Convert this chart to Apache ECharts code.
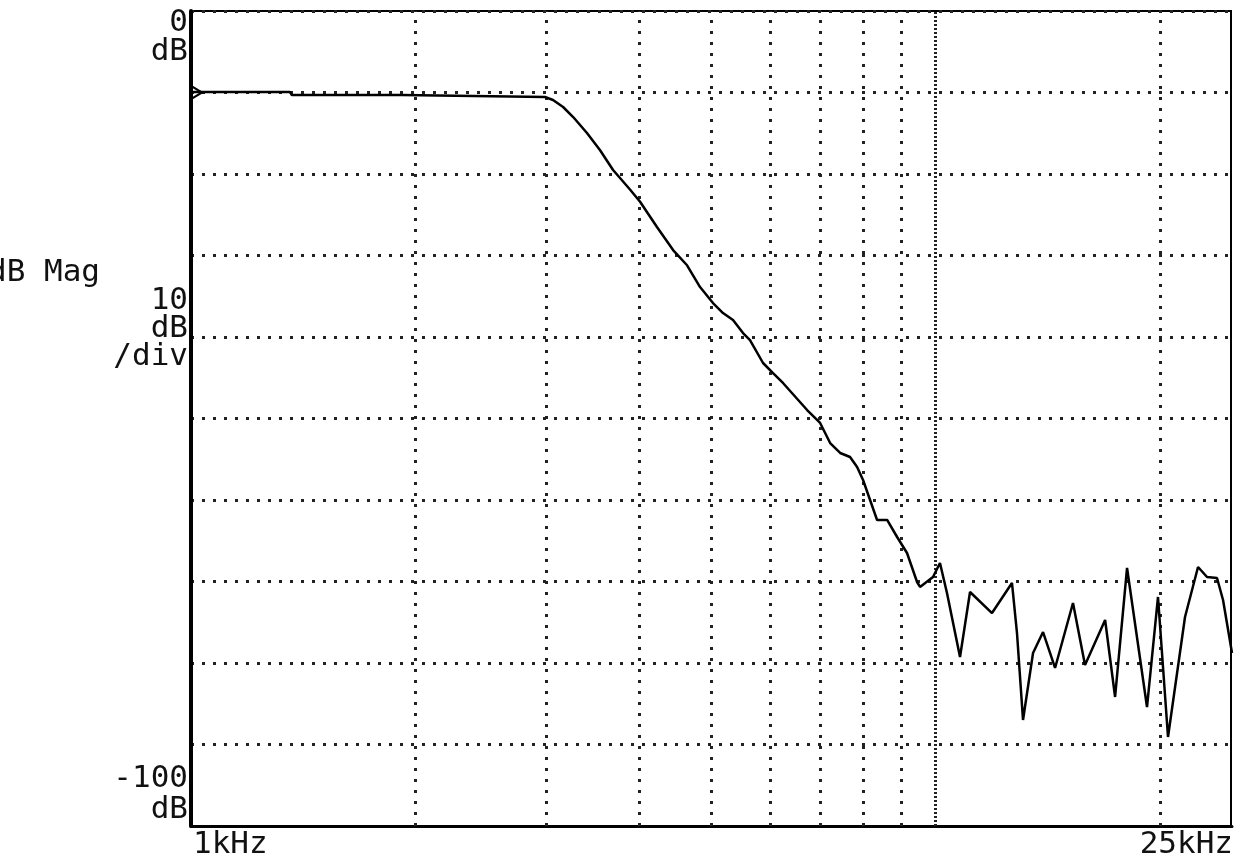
<!DOCTYPE html>
<html>
<head>
<meta charset="utf-8">
<title>dB Mag 1kHz - 25kHz</title>
<script src="https://cdn.jsdelivr.net/npm/echarts@6/dist/echarts.min.js"></script>
<style>
  html, body { margin: 0; padding: 0; background: #fff; }
  #chart { width: 1241px; height: 863px; }
</style>
</head>
<body>
<div id="chart"></div>
<script>
// frequency in kHz, magnitude in dB
const freqKHz = [
  1.000, 1.358, 1.366, 1.920, 1.930, 2.988, 3.063, 3.160, 3.260, 3.402,
  3.541, 3.688, 3.886, 4.009, 4.224, 4.440, 4.636, 4.826, 5.023, 5.181,
  5.344, 5.512, 5.632, 5.864, 6.048, 6.237, 6.720, 6.996, 7.216, 7.443,
  7.674, 7.843, 7.989, 8.164, 8.343, 8.606, 8.876, 9.152, 9.441, 9.528,
  9.918, 10.134, 10.356, 10.782, 11.121, 11.903, 12.661, 12.859, 13.101, 13.513,
  13.938, 14.465, 15.290, 15.869, 16.887, 17.416, 18.072, 19.222, 19.887, 20.512,
  21.619, 22.508, 23.141, 23.868, 24.317, 25.000
]
const magDb = [
  -9.94, -9.94, -10.31, -10.31, -10.55, -10.55, -10.92, -11.78, -13.01, -14.97,
  -17.06, -19.51, -21.90, -23.40, -26.50, -29.33, -31.20, -33.87, -35.83, -37.06,
  -37.91, -39.51, -40.37, -43.19, -44.42, -45.64, -48.96, -50.55, -53.01, -54.23,
  -54.72, -55.95, -57.55, -60.00, -62.45, -62.45, -64.54, -66.50, -70.06, -70.67,
  -69.45, -67.73, -71.41, -79.26, -71.29, -73.87, -70.18, -76.32, -86.99, -78.77,
  -76.20, -80.61, -72.64, -80.25, -74.72, -84.17, -68.34, -85.40, -71.90, -89.08,
  -74.36, -68.22, -69.45, -69.57, -72.27, -78.77
]
const gridFreqs = [2, 3, 4, 5, 6, 7, 8, 9, 20]
const centerFreq = 10
const refLevelDb = -10
const yLabels = { top: ['0', 'dB'], bottom: ['-100', 'dB'], scale: ['10', 'dB', '/div'] }
const xLabels = ['1kHz', '25kHz']

const chart = echarts.init(document.getElementById('chart'))
const font = '31px "DejaVu Sans Mono", "Liberation Mono", monospace'
const dotted = { color: '#222', width: 3, type: [3, 8] }

const txt = (text, x, y, align) => ({
  type: 'text', x, y,
  style: { text, font, fill: '#111', align: align || 'right', verticalAlign: 'middle' }
})

const option = {
  backgroundColor: '#fff',
  animation: false,
  grid: { left: 191, right: 9, top: 11, bottom: 37 },
  xAxis: {
    type: 'log', logBase: 10, min: 1, max: 25,
    axisLine: { show: true, onZero: false, lineStyle: { color: '#000', width: 3 } },
    axisTick: { show: false },
    axisLabel: { show: false },
    splitLine: { show: false }
  },
  yAxis: {
    type: 'value', min: -100, max: 0, interval: 10,
    axisLine: { show: true, lineStyle: { color: '#000', width: 4 } },
    axisTick: { show: false },
    axisLabel: { show: false },
    splitLine: { show: true, lineStyle: dotted }
  },
  graphic: [
    txt(yLabels.top[0], 188, 23), txt(yLabels.top[1], 188, 52),
    txt('dB Mag', -12, 273, 'left'),
    txt(yLabels.scale[0], 188, 301), txt(yLabels.scale[1], 188, 329), txt(yLabels.scale[2], 188, 357),
    txt(yLabels.bottom[0], 188, 779), txt(yLabels.bottom[1], 188, 810),
    txt(xLabels[0], 193, 845, 'left'),
    txt(xLabels[1], 1233, 845, 'right'),
    { type: 'rect', shape: { x: 1230, y: 11, width: 2, height: 815 }, style: { fill: '#000' } },
    { type: 'rect', shape: { x: 191, y: 10, width: 1041, height: 2 }, style: { fill: '#000' } }
  ],
  series: [
    {
      type: 'line',
      data: freqKHz.map((f, i) => [f, magDb[i]]),
      showSymbol: false,
      lineStyle: { color: '#000', width: 2.5 },
      itemStyle: { color: '#000' },
      z: 5,
      markLine: {
        silent: true,
        symbol: 'none',
        label: { show: false },
        lineStyle: dotted,
        data: gridFreqs.map(f => ({ xAxis: f })).concat([
          { xAxis: centerFreq, lineStyle: { color: '#222', width: 3, type: [2, 2] } }
        ])
      },
      markPoint: {
        silent: true,
        symbol: 'path://M0,0L10,6L0,12',
        symbolSize: [10, 12],
        symbolOffset: [6, 0],
        itemStyle: { color: 'none', borderColor: '#000', borderWidth: 2 },
        label: { show: false },
        data: [{ coord: [1, refLevelDb] }]
      }
    }
  ]
}

chart.setOption(option)
</script>
</body>
</html>
